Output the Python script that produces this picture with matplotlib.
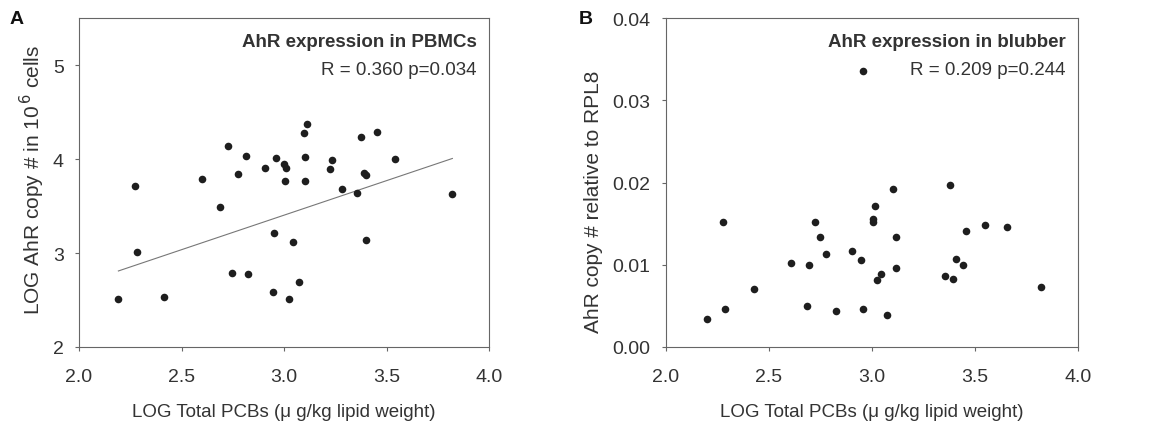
import matplotlib.pyplot as plt
import numpy as np

plt.rcParams["font.family"] = ["Liberation Sans", "DejaVu Sans"]

# Panel A: PBMCs
pbmc_x = [2.192, 2.273, 2.283, 2.416, 2.600, 2.687, 2.725, 2.747, 2.773, 2.816,
          2.824, 2.908, 2.950, 2.947, 2.959, 3.001, 3.011, 3.004, 3.024, 3.046,
          3.072, 3.097, 3.103, 3.103, 3.113, 3.222, 3.233, 3.282, 3.355, 3.373,
          3.391, 3.401, 3.402, 3.451, 3.540, 3.821]
pbmc_y = [2.51, 3.716, 3.014, 2.535, 3.784, 3.489, 4.135, 2.784, 3.844, 4.035,
          2.780, 3.908, 3.216, 2.589, 4.014, 3.947, 3.908, 3.766, 2.511, 3.117,
          2.691, 4.273, 4.025, 3.762, 4.376, 3.897, 3.986, 3.677, 3.635, 4.230,
          3.855, 3.833, 3.142, 4.291, 4.004, 3.628]
# regression line as printed in the figure
pbmc_fit_slope = 0.735
pbmc_fit_intercept = 1.198

# Panel B: blubber
blub_x = [2.199, 2.279, 2.288, 2.428, 2.607, 2.687, 2.696, 2.726, 2.747, 2.776,
          2.828, 2.904, 2.946, 2.959, 2.959, 3.007, 3.007, 3.017, 3.025, 3.045,
          3.075, 3.104, 3.117, 3.117, 3.355, 3.377, 3.396, 3.407, 3.444, 3.457,
          3.547, 3.655, 3.823]
blub_y = [0.00337, 0.01525, 0.00467, 0.0071, 0.01026, 0.00503, 0.01002, 0.01525,
          0.01339, 0.01136, 0.00438, 0.01172, 0.01059, 0.03359, 0.00462, 0.01525,
          0.01554, 0.01716, 0.0082, 0.00888, 0.00385, 0.01927, 0.01339, 0.00957,
          0.00868, 0.01968, 0.00824, 0.01071, 0.01002, 0.01412, 0.01489, 0.01456,
          0.00734]

x_ticks = [2.0, 2.5, 3.0, 3.5, 4.0]
x_label = "LOG Total PCBs (\u03bc g/kg lipid weight)"

text_color = "#333333"
dot_color = "#1e1e1e"
spine_color = "#666666"

fig = plt.figure(figsize=(11.57, 4.31), dpi=100)
ax_a = fig.add_axes([0.0683, 0.1926, 0.3544, 0.763])
ax_b = fig.add_axes([0.5756, 0.1926, 0.356, 0.763])


def style_axes(ax):
    for side in ["left", "right", "top", "bottom"]:
        ax.spines[side].set_color(spine_color)
        ax.spines[side].set_linewidth(0.8)
    ax.tick_params(direction="out", length=3, width=0.8, color=spine_color,
                   labelsize=14, labelcolor=text_color)
    ax.tick_params(axis="x", pad=12)
    ax.tick_params(axis="y", pad=8)
    ax.set_xlim(2.0, 4.0)
    ax.set_xticks(x_ticks)
    ax.set_xticklabels([f"{t:.1f}" for t in x_ticks])
    ax.set_xlabel(x_label, fontsize=13.5, color=text_color, labelpad=13)


# Panel A
ax_a.scatter(pbmc_x, pbmc_y, s=30, color=dot_color, zorder=3, linewidths=0)
fit_x = np.array([min(pbmc_x), max(pbmc_x)])
ax_a.plot(fit_x, pbmc_fit_slope * fit_x + pbmc_fit_intercept,
          color="#777777", linewidth=0.8)
style_axes(ax_a)
ax_a.set_ylim(2, 5.5)
ax_a.set_yticks([2, 3, 4, 5])
ax_a.set_ylabel("LOG AhR copy # in 10$^{\\,6}$ cells", fontsize=15,
                color=text_color)
ax_a.yaxis.set_label_coords(-0.077, 0.51)
ax_a.text(0.97, 0.955, "AhR expression in PBMCs", transform=ax_a.transAxes,
          ha="right", va="top", fontsize=13.5, fontweight="bold", color=text_color)
ax_a.text(0.97, 0.87, "R = 0.360 p=0.034", transform=ax_a.transAxes,
          ha="right", va="top", fontsize=13.5, color=text_color)

# Panel B
ax_b.scatter(blub_x, blub_y, s=30, color=dot_color, zorder=3, linewidths=0)
style_axes(ax_b)
ax_b.set_ylim(0, 0.04)
ax_b.set_yticks([0.0, 0.01, 0.02, 0.03, 0.04])
ax_b.set_yticklabels(["0.00", "0.01", "0.02", "0.03", "0.04"])
ax_b.set_ylabel("AhR copy # relative to RPL8", fontsize=15,
                color=text_color)
ax_b.yaxis.set_label_coords(-0.154, 0.445)
ax_b.text(0.97, 0.955, "AhR expression in blubber", transform=ax_b.transAxes,
          ha="right", va="top", fontsize=13.5, fontweight="bold", color=text_color)
ax_b.text(0.97, 0.87, "R = 0.209 p=0.244", transform=ax_b.transAxes,
          ha="right", va="top", fontsize=13.5, color=text_color)

fig.text(0.008, 0.955, "A", fontsize=14, fontweight="bold", color="#111111",
         va="center")
fig.text(0.500, 0.955, "B", fontsize=14, fontweight="bold", color="#111111",
         va="center")

fig.savefig("out.png", dpi=100)
